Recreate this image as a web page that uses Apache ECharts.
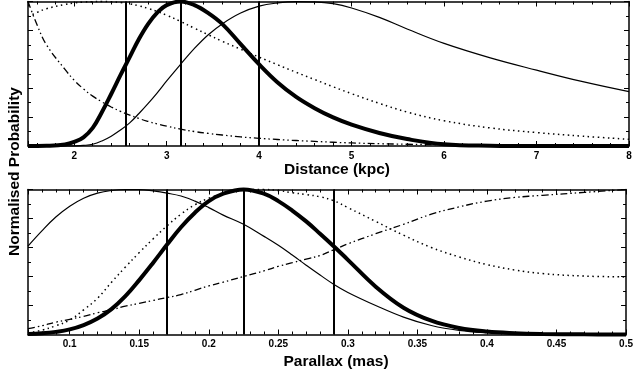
<!DOCTYPE html>
<html>
<head>
<meta charset="utf-8">
<script src="https://cdn.jsdelivr.net/npm/echarts@6/dist/echarts.min.js"></script>
<style>
  html, body { margin: 0; background: #fff; }
  #chart { width: 636px; height: 374px; }
</style>
</head>
<body>
<div id="chart"></div>
<script>
// top panel: distance (kpc)
const distance = [1.5, 1.6, 1.7, 1.9, 2.0, 2.1, 2.2, 2.3, 2.4, 2.5, 2.6, 2.7, 2.8, 2.9, 3.0, 3.15,
  3.3, 3.45, 3.6, 3.8, 4.0, 4.2, 4.4, 4.6, 4.8, 5.0, 5.3, 5.6, 6.0, 6.5, 7.0, 7.5, 8.0]
const distPosterior = [0, 0, 0.001, 0.01, 0.028, 0.06, 0.125, 0.235, 0.36, 0.49, 0.615, 0.74, 0.845, 0.925, 0.975, 1.0,
  0.975, 0.92, 0.845, 0.705, 0.565, 0.44, 0.34, 0.262, 0.198, 0.148, 0.09, 0.048, 0.012, 0.002, 0, 0, 0]
const distThin = [0, 0, 0, 0, 0.001, 0.004, 0.012, 0.035, 0.068, 0.11, 0.16, 0.225, 0.295, 0.37, 0.45, 0.565,
  0.675, 0.77, 0.845, 0.92, 0.968, 0.99, 0.999, 0.997, 0.985, 0.955, 0.89, 0.81, 0.71, 0.61, 0.525, 0.445, 0.376]
const distDotted = [0.895, 0.925, 0.95, 0.98, 0.99, 0.996, 0.999, 1.0, 0.998, 0.993, 0.984, 0.97, 0.952, 0.93, 0.905, 0.862,
  0.815, 0.77, 0.725, 0.67, 0.615, 0.562, 0.51, 0.46, 0.41, 0.362, 0.295, 0.235, 0.175, 0.125, 0.093, 0.068, 0.046]
const distDashDot = [1.0, 0.835, 0.70, 0.53, 0.455, 0.395, 0.345, 0.305, 0.27, 0.24, 0.214, 0.19, 0.17, 0.152, 0.137, 0.117,
  0.10, 0.087, 0.076, 0.063, 0.053, 0.045, 0.038, 0.032, 0.026, 0.021, 0.016, 0.012, 0.009, 0.006, 0.004, 0.003, 0.002]
const distMarks = [2.56, 3.15, 4.0]

// bottom panel: parallax (mas)
const parallax = [0.07, 0.08, 0.09, 0.1, 0.11, 0.12, 0.13, 0.14, 0.15, 0.16, 0.17, 0.18, 0.19, 0.2, 0.21, 0.225,
  0.24, 0.25, 0.26, 0.27, 0.28, 0.29, 0.3, 0.32, 0.34, 0.36, 0.38, 0.4, 0.42, 0.44, 0.47, 0.5]
const plxPosterior = [0.003, 0.008, 0.018, 0.035, 0.065, 0.11, 0.175, 0.264, 0.375, 0.495, 0.62, 0.74, 0.84, 0.92, 0.97, 1.0,
  0.97, 0.92, 0.855, 0.78, 0.695, 0.607, 0.515, 0.33, 0.185, 0.095, 0.045, 0.02, 0.009, 0.004, 0.001, 0]
const plxThin = [0.61, 0.715, 0.81, 0.885, 0.94, 0.975, 0.993, 1.0, 1.0, 0.99, 0.975, 0.955, 0.92, 0.875, 0.825, 0.76,
  0.675, 0.615, 0.548, 0.478, 0.41, 0.345, 0.29, 0.20, 0.12, 0.062, 0.028, 0.012, 0.005, 0.002, 0, 0]
const plxDotted = [0.01, 0.03, 0.06, 0.10, 0.17, 0.25, 0.36, 0.465, 0.565, 0.66, 0.75, 0.83, 0.895, 0.94, 0.97, 0.995,
  1.0, 0.993, 0.978, 0.965, 0.95, 0.922, 0.875, 0.78, 0.685, 0.60, 0.535, 0.482, 0.445, 0.42, 0.403, 0.397]
const plxDashDot = [0.04, 0.06, 0.085, 0.105, 0.125, 0.15, 0.17, 0.195, 0.215, 0.235, 0.255, 0.275, 0.305, 0.335, 0.36, 0.40,
  0.44, 0.47, 0.495, 0.52, 0.545, 0.585, 0.625, 0.695, 0.76, 0.83, 0.88, 0.92, 0.945, 0.96, 0.98, 1.0]
const plxMarks = [0.17, 0.225, 0.29]

const FONT = 'Liberation Sans, Arial, Helvetica, sans-serif'
const zip = (xs, ys) => xs.map((x, i) => [x, ys[i]])

function xAxes(grid, min, max, split) {
  const base = {
    gridIndex: grid, type: 'value', min, max, splitNumber: split,
    splitLine: { show: false },
    axisLine: { onZero: false, lineStyle: { color: '#000', width: 1.5 } },
    axisTick: { inside: true, length: 5, lineStyle: { color: '#000', width: 1 } },
    minorTick: { show: true, splitNumber: 5, length: 3, lineStyle: { color: '#000', width: 1 } },
  }
  return [
    { ...base, position: 'bottom', axisLabel: { color: '#000', fontFamily: FONT, fontWeight: 'bold', fontSize: 10, margin: 5, showMinLabel: false, showMaxLabel: true } },
    { ...base, position: 'top', axisLabel: { show: false } },
  ]
}

function yAxes(grid) {
  const base = {
    gridIndex: grid, type: 'value', min: 0, max: 1, interval: 0.2,
    splitLine: { show: false },
    axisLabel: { show: false },
    axisLine: { onZero: false, lineStyle: { color: '#000', width: 1.5 } },
    axisTick: { inside: true, length: 5, lineStyle: { color: '#000', width: 1 } },
    minorTick: { show: true, splitNumber: 2, length: 3, lineStyle: { color: '#000', width: 1 } },
  }
  return [{ ...base, position: 'left' }, { ...base, position: 'right' }]
}

const styles = {
  thick: { color: '#000', width: 4, type: 'solid' },
  thin: { color: '#000', width: 1.2, type: 'solid' },
  dotted: { color: '#000', width: 1.5, type: [1.5, 3.5] },
  dashDot: { color: '#000', width: 1.3, type: [7, 3, 1.5, 3, 1.5, 3] },
}

function curve(axis, xs, ys, style, marks) {
  const s = {
    type: 'line', xAxisIndex: axis * 2, yAxisIndex: axis * 2,
    data: zip(xs, ys), showSymbol: false, smooth: 0.4,
    clip: false, lineStyle: style, silent: true, z: style.width > 3 ? 3 : 2,
  }
  if (marks) {
    // precision matters: the default of 2 decimals would move 0.225 to 0.23
    s.markLine = {
      silent: true, precision: 4, symbol: ['none', 'none'], label: { show: false },
      lineStyle: { color: '#000', width: 2, type: 'solid' },
      data: marks.map(v => ({ xAxis: v })),
    }
  }
  return s
}

const chart = echarts.init(document.getElementById('chart'))
chart.setOption({
  animation: false,
  backgroundColor: '#fff',
  grid: [
    { left: 28, right: 7, top: 1.5, height: 144.5 },
    { left: 28, right: 7, top: 189.5, height: 145 },
  ],
  xAxis: [...xAxes(0, 1.5, 8, 6), ...xAxes(1, 0.07, 0.5, 8)],
  yAxis: [...yAxes(0), ...yAxes(1)],
  series: [
    curve(0, distance, distThin, styles.thin),
    curve(0, distance, distDotted, styles.dotted),
    curve(0, distance, distDashDot, styles.dashDot),
    curve(0, distance, distPosterior, styles.thick, distMarks),
    curve(1, parallax, plxThin, styles.thin),
    curve(1, parallax, plxDotted, styles.dotted),
    curve(1, parallax, plxDashDot, styles.dashDot),
    curve(1, parallax, plxPosterior, styles.thick, plxMarks),
  ],
  graphic: [
    { type: 'text', x: 337, y: 170, style: { text: 'Distance (kpc)', fontFamily: FONT, fontWeight: 'bold', fontSize: 15.5, fill: '#000', align: 'center', verticalAlign: 'middle' } },
    { type: 'text', x: 336, y: 362, style: { text: 'Parallax (mas)', fontFamily: FONT, fontWeight: 'bold', fontSize: 15.5, fill: '#000', align: 'center', verticalAlign: 'middle' } },
    { type: 'text', x: 15, y: 171.5, rotation: Math.PI / 2, style: { text: 'Normalised Probability', fontFamily: FONT, fontWeight: 'bold', fontSize: 15.5, fill: '#000', align: 'center', verticalAlign: 'middle' } },
  ],
})
</script>
</body>
</html>
